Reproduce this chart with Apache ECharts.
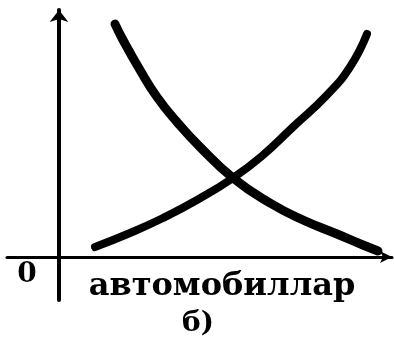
<!DOCTYPE html>
<html>
<head>
<meta charset="utf-8">
<script src="https://cdn.jsdelivr.net/npm/echarts@6/dist/echarts.min.js"></script>
<style>
  html, body { margin: 0; padding: 0; background: #fff; }
  #chart { width: 394px; height: 340px; }
</style>
</head>
<body>
<div id="chart"></div>
<script>
// points of the two curves, measured from the origin of the drawing
var fallingX = [56, 64, 81, 98, 118, 141, 174, 211, 244, 278, 304, 319];
var fallingY = [233, 217, 187, 160, 135, 110, 79, 54, 37, 23, 12, 6];
var risingX = [36, 71, 104, 138, 174, 203, 234, 268, 291, 308];
var risingY = [10, 24, 39, 57, 79, 101, 130, 162, 190, 223];
var axisTitle = 'автомобиллар';
var originLabel = '0';
var caption = 'б)';

function pairs(xs, ys) {
  return xs.map(function (x, i) { return [x, ys[i]]; });
}

var chart = echarts.init(document.getElementById('chart'), null, { renderer: 'canvas' });

var option = {
  animation: false,
  backgroundColor: '#fff',
  grid: { left: 7, right: 2, top: 10, bottom: 40 },
  xAxis: {
    type: 'value',
    min: -52,
    max: 333,
    axisLine: {
      show: true,
      onZero: true,
      symbol: ['none', 'arrow'],
      symbolSize: [9, 12],
      lineStyle: { color: '#000', width: 3 }
    },
    axisTick: { show: false },
    axisLabel: { show: false },
    splitLine: { show: false }
  },
  yAxis: {
    type: 'value',
    min: -43,
    max: 247,
    axisLine: {
      show: true,
      onZero: true,
      symbol: ['none', 'arrow'],
      symbolSize: [14, 12],
      lineStyle: { color: '#000', width: 4 }
    },
    axisTick: { show: false },
    axisLabel: { show: false },
    splitLine: { show: false }
  },
  series: [{
    type: 'line',
    data: pairs(fallingX, fallingY),
    smooth: 0.5,
    showSymbol: false,
    lineStyle: { color: '#000', width: 9, cap: 'round', join: 'round' }
  }, {
    type: 'line',
    data: pairs(risingX, risingY),
    smooth: 0.5,
    showSymbol: false,
    lineStyle: { color: '#000', width: 8, cap: 'round', join: 'round' }
  }],
  graphic: [{
    type: 'text',
    x: 27, y: 275,
    style: {
      text: originLabel,
      font: 'bold 28px "DejaVu Serif"',
      fill: '#000',
      align: 'center', verticalAlign: 'middle'
    }
  }, {
    type: 'text',
    x: 222, y: 287,
    style: {
      text: axisTitle,
      font: 'bold 32px "DejaVu Serif"',
      fill: '#000',
      align: 'center', verticalAlign: 'middle'
    }
  }, {
    type: 'text',
    x: 198, y: 324,
    style: {
      text: caption,
      font: 'bold 28px "DejaVu Serif"',
      fill: '#000',
      align: 'center', verticalAlign: 'middle'
    }
  }]
};

chart.setOption(option);
</script>
</body>
</html>
